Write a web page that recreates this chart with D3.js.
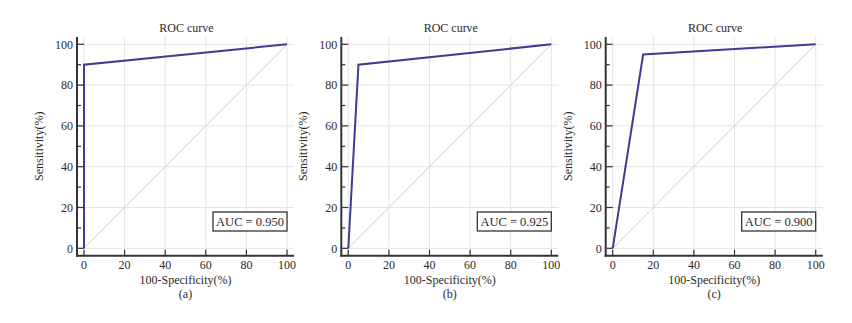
<!DOCTYPE html>
<html>
<head>
<meta charset="utf-8">
<script src="https://cdn.jsdelivr.net/npm/d3@7"></script>
<style>
  html, body { margin: 0; padding: 0; background: #fff; }
</style>
</head>
<body>
<svg id="chart" width="852" height="323" font-family="'Liberation Serif', 'DejaVu Serif', serif"></svg>
<script>
// ── Data ────────────────────────────────────────────────────────────────────
const panelLabels = ["(a)", "(b)", "(c)"];
const aucLabels   = ["AUC = 0.950", "AUC = 0.925", "AUC = 0.900"];
const rocA = [[0, 0], [0, 90], [100, 100]];
const rocB = [[0, 0], [5, 90], [100, 100]];
const rocC = [[0, 0], [15, 95], [100, 100]];
const curves = [rocA, rocB, rocC];
const majorTicks = [0, 20, 40, 60, 80, 100];
const minorTicks = [10, 30, 50, 70, 90];

const CURVE_COLOR = "#3c3c94";
const AXIS_COLOR  = "#333";
const TEXT_COLOR  = "#2a2a2a";
const GRID_COLOR  = "#e4e4e8";
const DIAG_COLOR  = "#d8c9cd";

const panelX = [84, 348.3, 612.7];   // pixel position of x = 0 in each panel
const plotW = 203;
const yTop = 44.3, yBot = 248.3;
const axisY = 255.7;                 // x axis line
const axisTop = 37;

const svg = d3.select("#chart");

panelLabels.forEach((lab, i) => {
  const g = svg.append("g").attr("transform", `translate(${panelX[i]},0)`)
    .attr("fill", TEXT_COLOR);

  const x = d3.scaleLinear().domain([0, 100]).range([0, plotW]);
  const y = d3.scaleLinear().domain([0, 100]).range([yBot, yTop]);
  const left = -7, right = plotW + 7;

  // grid
  g.append("g").selectAll("line")
    .data(majorTicks).enter().append("line")
    .attr("x1", d => x(d)).attr("x2", d => x(d))
    .attr("y1", axisTop).attr("y2", axisY)
    .attr("stroke", GRID_COLOR).attr("stroke-width", 1);
  g.append("g").selectAll("line")
    .data(majorTicks).enter().append("line")
    .attr("x1", left).attr("x2", right)
    .attr("y1", d => y(d)).attr("y2", d => y(d))
    .attr("stroke", GRID_COLOR).attr("stroke-width", 1);

  // diagonal reference
  g.append("line")
    .attr("x1", x(0)).attr("y1", y(0))
    .attr("x2", x(100)).attr("y2", y(100))
    .attr("stroke", DIAG_COLOR).attr("stroke-width", 1);

  // ROC curve
  const line = d3.line().x(d => x(d[0])).y(d => y(d[1]));
  g.append("path")
    .datum(curves[i])
    .attr("d", line)
    .attr("fill", "none")
    .attr("stroke", CURVE_COLOR)
    .attr("stroke-width", 2)
    .attr("stroke-linejoin", "miter");

  // axes lines
  g.append("line")
    .attr("x1", left).attr("x2", left)
    .attr("y1", axisTop).attr("y2", axisY + 1)
    .attr("stroke", AXIS_COLOR).attr("stroke-width", 2);
  g.append("line")
    .attr("x1", left - 1).attr("x2", right)
    .attr("y1", axisY).attr("y2", axisY)
    .attr("stroke", AXIS_COLOR).attr("stroke-width", 2);

  // y ticks (inside)
  g.append("g").selectAll("line")
    .data(majorTicks).enter().append("line")
    .attr("x1", left).attr("x2", left + 7)
    .attr("y1", d => y(d)).attr("y2", d => y(d))
    .attr("stroke", AXIS_COLOR).attr("stroke-width", 1.2);
  g.append("g").selectAll("line")
    .data(minorTicks).enter().append("line")
    .attr("x1", left).attr("x2", left + 4)
    .attr("y1", d => y(d)).attr("y2", d => y(d))
    .attr("stroke", AXIS_COLOR).attr("stroke-width", 1.2);

  // x ticks (inside)
  g.append("g").selectAll("line")
    .data(majorTicks).enter().append("line")
    .attr("x1", d => x(d)).attr("x2", d => x(d))
    .attr("y1", axisY).attr("y2", axisY - 6)
    .attr("stroke", AXIS_COLOR).attr("stroke-width", 1.2);

  // tick labels
  g.append("g").selectAll("text")
    .data(majorTicks).enter().append("text")
    .attr("x", left - 4).attr("y", d => y(d))
    .attr("dy", "0.35em")
    .attr("text-anchor", "end")
    .attr("font-size", 12)
    .text(d => d);
  g.append("g").selectAll("text")
    .data(majorTicks).enter().append("text")
    .attr("x", d => x(d)).attr("y", 269)
    .attr("text-anchor", "middle")
    .attr("font-size", 12)
    .text(d => d);

  // titles
  g.append("text")
    .attr("x", plotW / 2 + 1).attr("y", 32)
    .attr("text-anchor", "middle")
    .attr("font-size", 12)
    .text("ROC curve");
  g.append("text")
    .attr("x", plotW / 2).attr("y", 284)
    .attr("text-anchor", "middle")
    .attr("font-size", 12)
    .text("100-Specificity(%)");
  g.append("text")
    .attr("x", plotW / 2).attr("y", 297.5)
    .attr("text-anchor", "middle")
    .attr("font-size", 12)
    .text(lab);
  g.append("text")
    .attr("transform", `translate(-41,${(yTop + yBot) / 2}) rotate(-90)`)
    .attr("text-anchor", "middle")
    .attr("font-size", 12)
    .text("Sensitivity(%)");

  // AUC box
  const bw = 74, bh = 19;
  g.append("rect")
    .attr("x", x(100) - bw).attr("y", 212)
    .attr("width", bw).attr("height", bh)
    .attr("fill", "#fff")
    .attr("stroke", AXIS_COLOR).attr("stroke-width", 1.3);
  g.append("text")
    .attr("x", x(100) - bw / 2).attr("y", 221.5)
    .attr("dy", "0.35em")
    .attr("text-anchor", "middle")
    .attr("font-size", 12.5)
    .text(aucLabels[i]);
});
</script>
</body>
</html>
